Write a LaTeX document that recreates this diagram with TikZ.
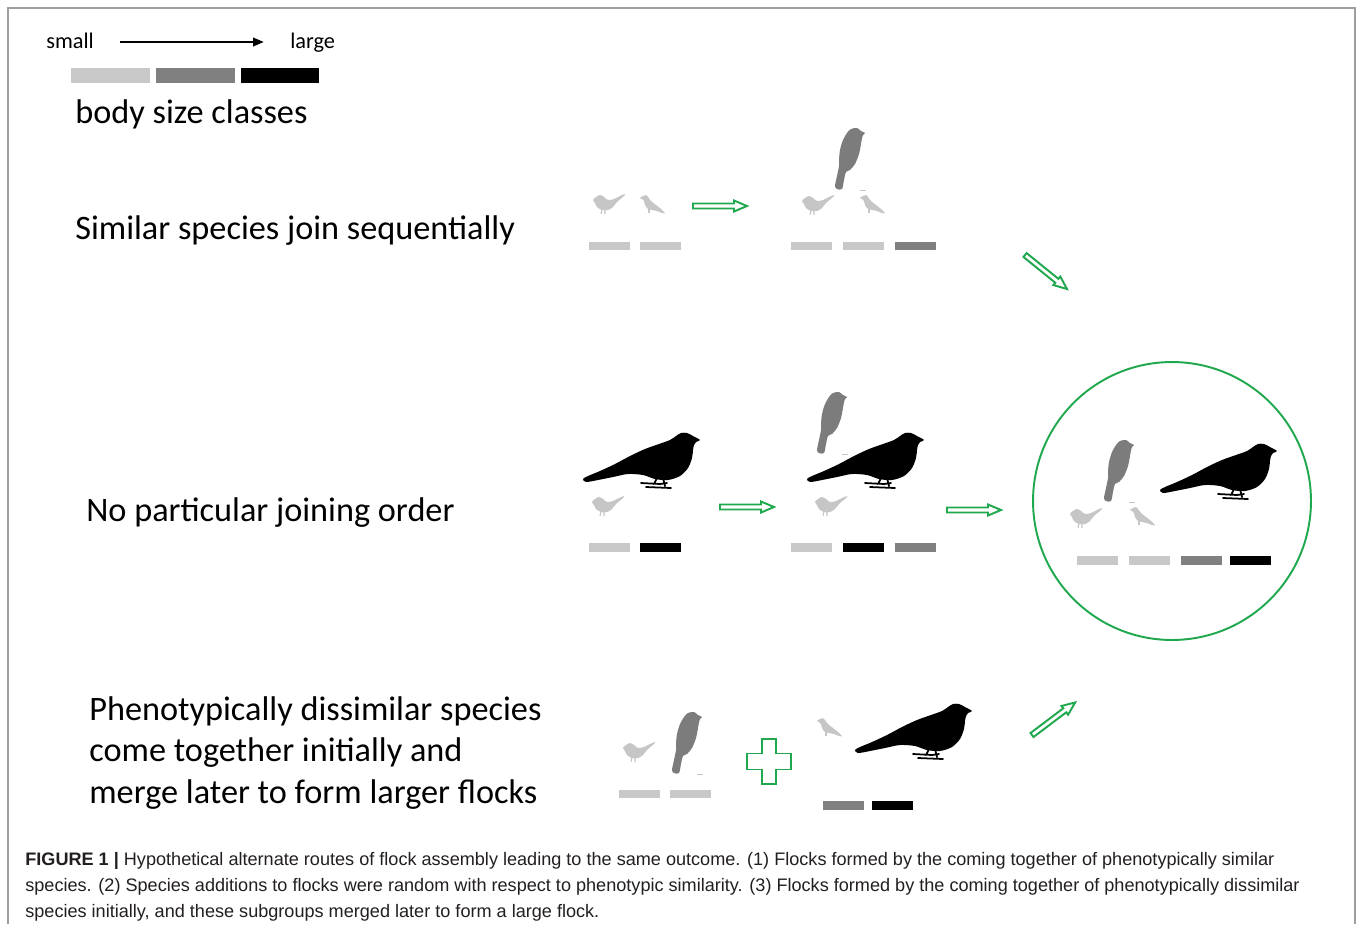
\documentclass[tikz,border=0pt]{standalone}
\usepackage{fontspec}
\setmainfont{Carlito}
\newfontfamily\capfont{Liberation Sans}
\usetikzlibrary{arrows.meta}

\definecolor{flockgreen}{RGB}{32,168,78}
\definecolor{sizelight}{RGB}{200,200,200}
\definecolor{sizemid}{RGB}{128,128,128}
\definecolor{birdlight}{RGB}{198,198,198}
\definecolor{birdmid}{RGB}{124,124,124}
\definecolor{captext}{RGB}{35,31,32}

% one size-class bar of a flock (colour, left, top)
\newcommand\flockbar[3]{\fill[#1] (#2,#3) rectangle ++(41,8.5);}

\tikzset{
  frameline/.style={draw=gray!75, line width=0.9pt},
  rowlabel/.style={anchor=base west, inner sep=0pt, font=\fontsize{19.5}{23}\selectfont},
  scalelabel/.style={anchor=base west, inner sep=0pt, font=\fontsize{12.7}{15}\selectfont},
  captionline/.style={anchor=base west, inner sep=0pt, text=captext, font=\capfont\fontsize{10.3}{12}\selectfont},
  % small light bird, tail raised to the right
  pics/birdsmallA/.style={code={
    \fill[birdlight] plot[smooth cycle, tension=0.55] coordinates
      {(0,6) (3,3) (7,1) (11,3) (15,6) (21,5) (27,2) (32,0) (31,2) (24,8) (20,13) (15,16) (9,16) (4,13) (2,9)};
    \draw[birdlight, line width=0.6pt] (9,15) -- (8,20) (12,15) -- (12,20);
  }},
  % small light bird, tilted with the tail down to the right
  pics/birdsmallB/.style={code={
    \fill[birdlight] plot[smooth cycle, tension=0.55] coordinates
      {(0,3) (3,1) (6,0) (8,2) (11,6) (16,10) (21,14) (25,18) (22,18) (17,16) (12,15) (8,14) (5,10) (4,6) (2,4)};
    \draw[birdlight, line width=0.6pt] (9,14) -- (9,18);
  }},
  % medium grey bird perched upright
  pics/birdmedium/.style={code={
    \fill[birdmid] plot[smooth cycle, tension=0.5] coordinates
      {(30,5) (26,3) (22,0) (16,1) (12,5) (8,12) (5,22) (4,32) (4,38) (2,48) (0,58) (2,61) (7,61) (9,52) (11,44) (15,42) (20,36) (24,26) (26,16) (27,10) (28,7)};
    \draw[birdlight, line width=0.5pt] (25,62) -- (31,62);
  }},
  % large black bird
  pics/birdlarge/.style={code={
    \fill[black] plot[smooth cycle, tension=0.5] coordinates
      {(117,8) (110,4) (104,1) (98,1) (93,4) (87,8) (76,12) (62,17) (47,24) (32,32) (17,39) (5,44) (0,47) (3,50) (15,48) (30,45) (45,42) (60,43) (72,47) (85,48) (97,44) (105,36) (109,26) (110,18) (111,13) (113,10)};
    \draw[black, line width=1pt, line cap=round] (74,46) -- (71,52) (80,46) -- (82,54)
      (58,51) -- (77,52) -- (84,51) (63,55) -- (88,56);
  }},
  % hollow green arrow, 54 units long
  pics/hollowarrow/.style={code={
    \draw[flockgreen, line width=1.1pt, fill=white, line join=miter]
      (0,-2.5) -- (41,-2.5) -- (41,-5.5) -- (54,0) -- (41,5.5) -- (41,2.5) -- (0,2.5) -- cycle;
  }},
  % hollow green plus sign
  pics/hollowplus/.style={code={
    \draw[flockgreen, line width=1.1pt, fill=white, line join=miter]
      (-7,-22.5) -- (7,-22.5) -- (7,-8) -- (22,-8) -- (22,8) -- (7,8) -- (7,22.5)
      -- (-7,22.5) -- (-7,8) -- (-22,8) -- (-22,-8) -- (-7,-8) -- cycle;
  }}
}

\begin{document}
\begin{tikzpicture}[x=0.02cm, y=-0.02cm]
\useasboundingbox (0,0) rectangle (1358,924);
\fill[white] (0,0) rectangle (1358,924);
\draw[frameline] (8,924) -- (8,8) -- (1355,8) -- (1355,924);

% size scale
\node[scalelabel] (small) at (46,48) {small};
\node[scalelabel] (large) at (290,48) {large};
\draw[line width=0.6pt, -{Triangle[length=6pt, width=5pt]}, shorten <=14.5pt, shorten >=15pt]
  (small.east |- 0,42) -- (large.west |- 0,42);
\fill[sizelight] (71,68) rectangle (150,82.5);
\fill[sizemid] (156,68) rectangle (235,82.5);
\fill[black] (241,68) rectangle (319,82.5);
\node[rowlabel] (classes) at (75,123) {body size classes};

% route 1
\node[rowlabel] (route1) at (75,239) {Similar species join sequentially};
\pic at (593,194) {birdsmallA};
\pic at (640,195) {birdsmallB};
\flockbar{sizelight}{589}{241.5}
\flockbar{sizelight}{640}{241.5}
\pic (arrowone) at (693,206) {hollowarrow};
\pic at (835,128) {birdmedium};
\pic at (802,195) {birdsmallA};
\pic at (860,195) {birdsmallB};
\flockbar{sizelight}{791}{241.5}
\flockbar{sizelight}{843}{241.5}
\flockbar{sizemid}{895}{241.5}
\pic[rotate=-39] (arrowdown) at (1025,255) {hollowarrow};

% route 2
\node[rowlabel] (route2) at (86,521) {No particular joining order};
\pic at (583,432) {birdlarge};
\pic at (592,496) {birdsmallA};
\flockbar{sizelight}{589}{543}
\flockbar{black}{640}{543}
\pic (arrowtwo) at (720,507) {hollowarrow};
\pic at (817,392) {birdmedium};
\pic at (807,432) {birdlarge};
\pic at (815,496) {birdsmallA};
\flockbar{sizelight}{791}{543}
\flockbar{black}{843}{543}
\flockbar{sizemid}{895}{543}
\pic (arrowthree) at (947,510) {hollowarrow};

% merged flock
\node[draw=flockgreen, line width=1.1pt, circle, inner sep=0pt, outer sep=0pt,
  minimum size=5.56cm] (outcome) at (1172,501) {};
\pic at (1104,440) {birdmedium};
\pic at (1070,508) {birdsmallA};
\pic at (1130,507) {birdsmallB};
\pic at (1160,443) {birdlarge};
\flockbar{sizelight}{1077}{556}
\flockbar{sizelight}{1129}{556}
\flockbar{sizemid}{1181}{556}
\flockbar{black}{1230}{556}

% route 3
\node[rowlabel] (route3a) at (89,720) {Phenotypically dissimilar species};
\node[rowlabel] (route3b) at (89,761) {come together initially and};
\node[rowlabel] (route3c) at (89,803) {merge later to form larger flocks};
\pic at (623,742) {birdsmallA};
\pic at (672,712) {birdmedium};
\flockbar{sizelight}{619}{789.5}
\flockbar{sizelight}{670}{789.5}
\pic (plus) at (769,761.5) {hollowplus};
\pic at (817,718) {birdsmallB};
\pic at (855,703) {birdlarge};
\flockbar{sizemid}{823}{801}
\flockbar{black}{872}{801}
\pic[rotate=37] (arrowup) at (1032,735) {hollowarrow};

% caption
\node[captionline] (cap1) at (25,865) {{\bfseries FIGURE 1 |} Hypothetical alternate routes of flock assembly leading to the same outcome. (1) Flocks formed by the coming together of phenotypically similar};
\node[captionline] (cap2) at (25,891) {species. (2) Species additions to flocks were random with respect to phenotypic similarity. (3) Flocks formed by the coming together of phenotypically dissimilar};
\node[captionline] (cap3) at (25,917) {species initially, and these subgroups merged later to form a large flock.};
\end{tikzpicture}
\end{document}
